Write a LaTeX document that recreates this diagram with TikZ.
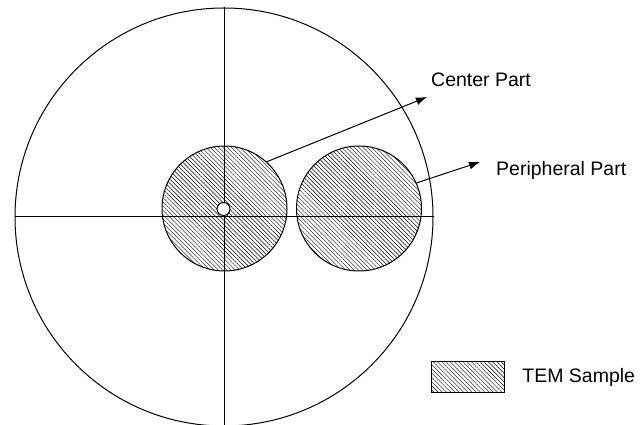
\documentclass[tikz,border=0pt]{standalone}
\usepackage{fontspec}
\setmainfont{Liberation Sans}
\usetikzlibrary{arrows.meta,positioning,patterns.meta}

\begin{document}
\begin{tikzpicture}[
            x=1pt, y=1pt,
            muestra/.style={draw, line width=1pt, pattern={Lines[angle=-45,distance=3pt,line width=0.45pt]}, inner sep=0pt},
            linea/.style={line width=1pt},
            flecha/.style={-{Latex[length=11pt,width=8pt]}, line width=1pt},
            etiqueta/.style={font=\fontsize{19.5}{23}\selectfont, inner sep=0pt}
        ]
        \useasboundingbox (0,0) rectangle (640,425);

        % Disco completo
        \node[draw, circle, line width=1pt, minimum size=418pt, inner sep=0pt] (disco) at (224,208) {};

        % Muestra del centro y muestra periferica
        \node[muestra, circle, minimum size=125pt] (centro) at (224.5,216.5) {};
        \node[muestra, circle, minimum size=125pt] (perif) at (359,216.5) {};

        % Ejes del disco
        \draw[linea] (disco.west) -- (disco.east);
        \draw[linea] (disco.north) -- (disco.south);

        % Agujero en el centro, encima de los ejes
        \node[draw, circle, line width=1pt, fill=white, minimum size=13pt, inner sep=0pt] (hueco) at (223.5,216) {};

        % Etiquetas
        \node[etiqueta, anchor=west] (tcentro) at (431,345) {Center Part};
        \node[etiqueta, anchor=west] (tperif) at (496,255) {Peripheral Part};
        \coordinate (pc) at (427,328);
        \coordinate (pp) at (480,263);

        % Flechas
        \draw[flecha] (centro.48) -- (pc);
        \draw[flecha] (perif.24) -- (pp);

        % Leyenda
        \node[muestra, rectangle, minimum width=72.7pt, minimum height=30.7pt] (leyenda) at (468.3,47.7) {};
        \node[etiqueta, right=17pt of leyenda] (tleyenda) {TEM Sample};

    \end{tikzpicture}
\end{document}
